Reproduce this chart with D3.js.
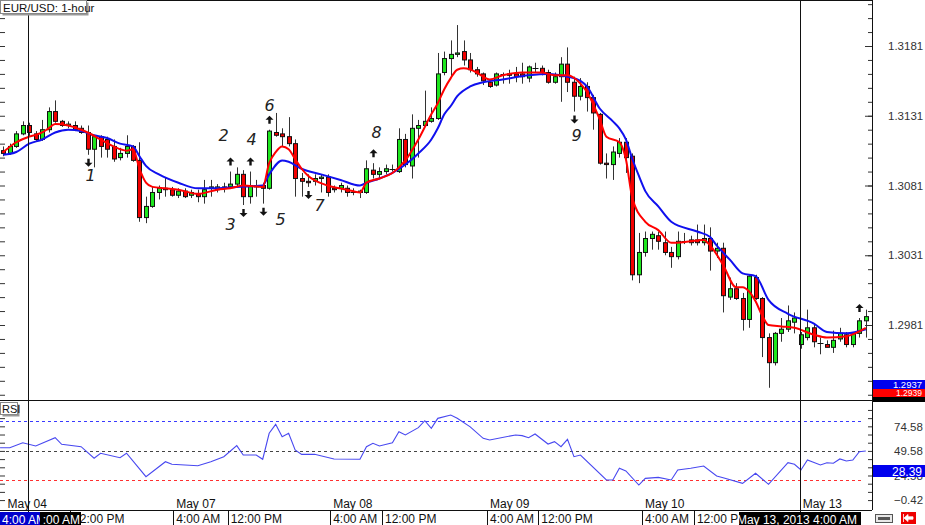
<!DOCTYPE html>
<html>
<head>
<meta charset="utf-8">
<script src="https://cdnjs.cloudflare.com/ajax/libs/d3/7.8.5/d3.min.js"></script>
<style>
  body { margin: 0; background: #fff; }
  svg { display: block; font-family: "Liberation Sans", Arial, sans-serif; }
  .axis path.domain { display: none; }
  .axis line { stroke: #333; }
  .axis text { fill: #333; font-size: 11.5px; }
</style>
</head>
<body>
<div id="chart"></div>
<script>
// EUR/USD 1-hour candles
const opens = [1.3106,1.3104,1.3109,1.3118,1.3124,1.3118,1.3114,1.3121,1.3134,1.3127,
  1.3124,1.3124,1.3122,1.3119,1.3107,1.3116,1.3114,1.3109,1.3101,1.3104,
  1.3109,1.3099,1.3058,1.3066,1.3076,1.3079,1.3078,1.3074,1.3077,1.3074,
  1.3075,1.3073,1.3079,1.3078,1.3079,1.3080,1.3082,1.3089,1.3073,1.3080,
  1.3081,1.3079,1.3119,1.3118,1.3116,1.3111,1.3086,1.3084,1.3084,1.3086,
  1.3087,1.3079,1.3079,1.3079,1.3076,1.3076,1.3076,1.3092,1.3089,1.3091,
  1.3093,1.3091,1.3114,1.3095,1.3122,1.3124,1.3127,1.3129,1.3162,1.3172,
  1.3175,1.3177,1.3171,1.3164,1.3161,1.3155,1.3153,1.3161,1.3161,1.3161,
  1.3161,1.3158,1.3165,1.3165,1.3162,1.3155,1.3159,1.3168,1.3155,1.3145,
  1.3152,1.3144,1.3132,1.3097,1.3096,1.3104,1.3112,1.3102,1.3017,1.3033,
  1.3043,1.3045,1.3040,1.3033,1.3030,1.3041,1.3042,1.3042,1.3040,1.3043,
  1.3034,1.3036,1.3001,1.3007,1.3000,1.2985,1.3015,1.3000,1.2972,1.2954,
  1.2975,1.2978,1.2983,1.2967,1.2972,1.2979,1.2968,1.2967,1.2965,1.2971,
  1.2974,1.2967,1.2975,1.2984];
const highs = [1.3109,1.3111,1.3120,1.3127,1.3126,1.3120,1.3128,1.3137,1.3142,1.3128,
  1.3127,1.3127,1.3124,1.3124,1.3117,1.3117,1.3116,1.3114,1.3108,1.3117,
  1.3110,1.3112,1.3073,1.3080,1.3081,1.3087,1.3080,1.3079,1.3079,1.3078,
  1.3078,1.3085,1.3085,1.3082,1.3083,1.3091,1.3094,1.3092,1.3091,1.3085,
  1.3083,1.3121,1.3133,1.3122,1.3130,1.3114,1.3090,1.3089,1.3089,1.3089,
  1.3089,1.3081,1.3083,1.3081,1.3079,1.3078,1.3099,1.3097,1.3094,1.3096,
  1.3096,1.3122,1.3118,1.3132,1.3128,1.3149,1.3137,1.3176,1.3177,1.3185,
  1.3196,1.3185,1.3176,1.3166,1.3162,1.3157,1.3162,1.3162,1.3164,1.3166,
  1.3169,1.3167,1.3169,1.3167,1.3164,1.3162,1.3173,1.3180,1.3159,1.3158,
  1.3155,1.3146,1.3133,1.3104,1.3109,1.3115,1.3115,1.3104,1.3047,1.3048,
  1.3048,1.3048,1.3048,1.3037,1.3048,1.3047,1.3045,1.3053,1.3053,1.3051,
  1.3040,1.3040,1.3015,1.3011,1.3004,1.3017,1.3017,1.3001,1.2975,1.2976,
  1.2986,1.2995,1.2990,1.2976,1.2992,1.2981,1.2972,1.2970,1.2977,1.2979,
  1.2976,1.2976,1.2986,1.2992];
const lows = [1.3102,1.3103,1.3108,1.3117,1.3116,1.3113,1.3113,1.3119,1.3126,1.3123,
  1.3122,1.3120,1.3118,1.3103,1.3094,1.3101,1.3101,1.3098,1.3099,1.3101,
  1.3098,1.3055,1.3054,1.3065,1.3071,1.3073,1.3073,1.3072,1.3072,1.3072,
  1.3069,1.3068,1.3073,1.3076,1.3076,1.3079,1.3080,1.3067,1.3068,1.3073,
  1.3068,1.3078,1.3116,1.3109,1.3109,1.3073,1.3073,1.3080,1.3081,1.3076,
  1.3073,1.3076,1.3076,1.3073,1.3074,1.3072,1.3075,1.3086,1.3086,1.3089,
  1.3091,1.3090,1.3094,1.3086,1.3101,1.3123,1.3126,1.3128,1.3160,1.3159,
  1.3173,1.3167,1.3162,1.3159,1.3153,1.3151,1.3152,1.3154,1.3154,1.3155,
  1.3154,1.3155,1.3162,1.3160,1.3154,1.3154,1.3141,1.3148,1.3134,1.3142,
  1.3134,1.3121,1.3096,1.3086,1.3085,1.3101,1.3090,1.3013,1.3011,1.3030,
  1.3035,1.3035,1.3031,1.3022,1.3028,1.3039,1.3038,1.3038,1.3038,1.3020,
  1.3029,1.2990,1.2999,1.2999,1.2977,1.2979,1.2999,1.2958,1.2936,1.2952,
  1.2969,1.2976,1.2975,1.2964,1.2970,1.2965,1.2960,1.2965,1.2961,1.2969,
  1.2965,1.2965,1.2972,1.2972];
const closes = [1.3104,1.3109,1.3118,1.3124,1.3119,1.3114,1.3121,1.3134,1.3127,1.3124,
  1.3125,1.3121,1.3119,1.3107,1.3116,1.3109,1.3107,1.3100,1.3104,1.3109,
  1.3099,1.3058,1.3066,1.3076,1.3079,1.3078,1.3074,1.3077,1.3073,1.3076,
  1.3073,1.3078,1.3080,1.3080,1.3080,1.3082,1.3089,1.3073,1.3081,1.3081,
  1.3079,1.3120,1.3117,1.3116,1.3111,1.3086,1.3084,1.3083,1.3086,1.3087,
  1.3076,1.3078,1.3081,1.3076,1.3076,1.3077,1.3093,1.3089,1.3091,1.3093,
  1.3093,1.3114,1.3096,1.3122,1.3124,1.3127,1.3129,1.3161,1.3172,1.3175,
  1.3176,1.3171,1.3164,1.3161,1.3156,1.3152,1.3161,1.3161,1.3160,1.3159,
  1.3159,1.3166,1.3165,1.3162,1.3155,1.3159,1.3168,1.3155,1.3145,1.3152,
  1.3144,1.3133,1.3097,1.3096,1.3105,1.3112,1.3101,1.3017,1.3033,1.3043,
  1.3046,1.3041,1.3033,1.3030,1.3041,1.3041,1.3040,1.3040,1.3043,1.3034,
  1.3036,1.3002,1.3007,1.3000,1.2985,1.3016,1.3000,1.2972,1.2954,1.2975,
  1.2978,1.2984,1.2986,1.2974,1.2979,1.2969,1.2968,1.2965,1.2970,1.2975,
  1.2967,1.2975,1.2984,1.2987];

// moving averages as [bar, price]
const maFast = [[0,1.3105],[2,1.3112],[4,1.3116],[6,1.3119],[7,1.3122],[8,1.3125],[10,1.3124],
  [12,1.3121],[13,1.3119],[15,1.3114],[17,1.3109],[19,1.3106],[20,1.3107],[21,1.3093],[22,1.3083],
  [23,1.3080],[25,1.3079],[27,1.3078],[30,1.3075],[33,1.3078],[35,1.3079],[37,1.3081],[40,1.3080],
  [41,1.3097],[42,1.3105],[43,1.3109],[44,1.3107],[45,1.3100],[46,1.3093],[47,1.3088],[50,1.3081],
  [53,1.3078],[55,1.3076],[56,1.3083],[58,1.3086],[60,1.3090],[62,1.3099],[64,1.3114],[66,1.3132],
  [67,1.3140],[68,1.3150],[69,1.3158],[70,1.3164],[71,1.3165],[73,1.3162],[74,1.3159],[75,1.3157],
  [77,1.3160],[80,1.3162],[83,1.3162],[85,1.3160],[87,1.3160],[89,1.3154],[90,1.3148],[92,1.3128],
  [93,1.3116],[95,1.3112],[96,1.3100],[97,1.3072],[99,1.3055],[101,1.3049],[103,1.3040],[104,1.3040],
  [108,1.3042],[109,1.3038],[111,1.3024],[113,1.3008],[114,1.3008],[115,1.3005],[116,1.2998],
  [117,1.2988],[118,1.2981],[120,1.2980],[122,1.2979],[125,1.2974],[127,1.2972],[130,1.2973],[133,1.2979]];
const maSlow = [[0,1.3103],[2,1.3105],[4,1.3111],[6,1.3114],[8,1.3119],[10,1.3121],[12,1.3120],
  [14,1.3117],[16,1.3115],[18,1.3111],[20,1.3109],[21,1.3102],[22,1.3095],[24,1.3089],[27,1.3083],
  [30,1.3079],[33,1.3079],[36,1.3080],[40,1.3081],[41,1.3089],[43,1.3099],[44,1.3098],[46,1.3093],
  [49,1.3089],[52,1.3085],[55,1.3081],[56,1.3083],[58,1.3086],[60,1.3090],[62,1.3096],[64,1.3104],
  [66,1.3114],[67,1.3122],[68,1.3132],[69,1.3138],[70,1.3145],[72,1.3152],[74,1.3155],[77,1.3157],
  [81,1.3160],[84,1.3161],[87,1.3159],[89,1.3156],[90,1.3152],[92,1.3136],[94,1.3127],[95,1.3122],
  [96,1.3114],[97,1.3100],[98,1.3088],[99,1.3077],[101,1.3066],[103,1.3055],[107,1.3048],[109,1.3044],
  [110,1.3038],[112,1.3028],[114,1.3018],[116,1.3016],[118,1.2999],[121,1.2989],[125,1.2982],
  [127,1.2976],[130,1.2975],[133,1.2978]];

// RSI as [bar, value]
const rsiValues = [[-0.5,52.8],[1,52.8],[3,57.9],[5,54.6],[8,63.0],[9,56.3],[12,53.9],[14,42.1],
  [15,47.2],[18,42.7],[19,47.2],[22,23.4],[25,38.6],[26,36.0],[30,34.5],[32,38.6],[34,43.7],
  [36,54.9],[37,45.4],[39,45.4],[40,41.1],[41,67.5],[42,76.6],[43,64.0],[44,67.5],[45,50.5],
  [46,46.1],[48,46.1],[51,41.4],[55,41.1],[56,53.9],[57,57.3],[58,54.6],[60,57.9],[61,69.1],
  [62,65.8],[64,73.2],[65,80.3],[66,72.6],[67,82.7],[69,86.1],[70,82.7],[72,74.0],[74,62.4],
  [75,60.7],[79,65.8],[80,65.1],[81,63.0],[82,66.8],[84,56.6],[85,59.0],[86,53.9],[87,61.4],
  [88,43.7],[89,45.4],[93,20.0],[94,20.0],[95,31.9],[96,29.2],[98,14.9],[99,21.7],[101,22.7],
  [103,20.0],[104,30.2],[106,31.9],[108,34.2],[110,24.1],[111,22.3],[114,16.6],[116,26.8],
  [118,15.6],[121,37.6],[122,36.0],[123,30.2],[124,40.3],[126,35.3],[127,37.6],[128,37.0],
  [129,41.4],[130,39.3],[131,40.3],[132,48.8],[133,49.5]];

const priceLabels = [1.3181, 1.3131, 1.3081, 1.3031, 1.2981];
const rsiLabels = [74.58, 49.58, 24.58, -0.42];
const rsiLevels = [80, 50, 20];

// bar positions of the time scale labels
const dayTicks = [[0.2, "May 04"], [26.2, "May 07"], [50.4, "May 08"], [74.6, "May 09"], [98.5, "May 10"], [122.8, "May 13"]];
const hourTicks = [[10.3, "12:00 PM"], [26.2, "4:00 AM"], [34.6, "12:00 PM"], [50.4, "4:00 AM"], [58.4, "12:00 PM"],
  [74.6, "4:00 AM"], [82.5, "12:00 PM"], [98.5, "4:00 AM"], [106.5, "12:00 PM"]];
const cursorBars = [4, 123];

// hand drawn signals
const signals = [[13, "down", "1"], [35, "up", "2"], [37, "down", "3"], [38, "up", "4"], [40, "down", "5"],
  [41, "up", "6"], [47, "down", "7"], [57, "up", "8"], [88, "down", "9"], [132, "up", ""]];

// dimensions
const WIDTH = 925;
const HEIGHT = 525;
const AXIS_X = 872;
const PRICE_BOTTOM = 400;
const RSI_TOP = 401;
const TIME_TOP = 510;

// scales
const x = d3.scaleLinear().domain([0, 133]).range([3.3, 865.8]);
const y = d3.scaleLinear().domain([1.2981, 1.3181]).range([325, 46]);
const yRsi = d3.scaleLinear().domain([20, 80]).range([480, 421]);

const bars = opens.map((o, i) => ({ i, o, h: highs[i], l: lows[i], c: closes[i] }));

const svg = d3.select("#chart").append("svg")
  .attr("width", WIDTH)
  .attr("height", HEIGHT);

const defs = svg.append("defs");
defs.append("clipPath").attr("id", "clipPrice")
  .append("rect").attr("x", 0).attr("y", 1).attr("width", AXIS_X).attr("height", PRICE_BOTTOM - 1);
defs.append("clipPath").attr("id", "clipRsi")
  .append("rect").attr("x", 0).attr("y", RSI_TOP + 1).attr("width", AXIS_X).attr("height", TIME_TOP - RSI_TOP - 1);

// price axis ticks (left edge + right axis)
const priceMinor = d3.range(-5, 29).map(k => 1.2931 + k * 0.001);
const rsiMinor = d3.range(0, 13).map(k => -0.42 + k * 25 / 3);

svg.append("g").attr("class", "axis").attr("transform", `translate(0,0)`)
  .call(d3.axisRight(y).tickValues(priceMinor.filter(v => y(v) > 2 && y(v) < PRICE_BOTTOM)).tickSize(5).tickFormat(""));
svg.append("g").attr("class", "axis").attr("transform", `translate(${AXIS_X},0)`)
  .call(d3.axisLeft(y).tickValues(priceMinor.filter(v => y(v) > 2 && y(v) < PRICE_BOTTOM)).tickSize(4).tickFormat(""));
svg.append("g").attr("class", "axis").attr("transform", `translate(${AXIS_X},0)`)
  .call(d3.axisLeft(y).tickValues(priceLabels).tickSize(7).tickFormat(""));
svg.append("g").attr("class", "axis").attr("transform", `translate(${AXIS_X},0)`)
  .call(d3.axisRight(y).tickValues(priceLabels).tickSize(0).tickPadding(16).tickFormat(d3.format(".4f")));

svg.append("g").attr("class", "axis")
  .call(d3.axisRight(yRsi).tickValues(rsiMinor.filter(v => yRsi(v) > RSI_TOP + 2)).tickSize(5).tickFormat(""));
svg.append("g").attr("class", "axis").attr("transform", `translate(${AXIS_X},0)`)
  .call(d3.axisLeft(yRsi).tickValues(rsiMinor.filter(v => yRsi(v) > RSI_TOP + 2)).tickSize(4).tickFormat(""));
svg.append("g").attr("class", "axis").attr("transform", `translate(${AXIS_X},0)`)
  .call(d3.axisRight(yRsi).tickValues(rsiLabels).tickSize(0).tickPadding(22).tickFormat(d3.format(".2f")));

// frame lines
const frame = svg.append("g").attr("stroke", "#111").attr("stroke-width", 1);
frame.append("line").attr("x1", 0).attr("x2", AXIS_X).attr("y1", 0.5).attr("y2", 0.5);
frame.append("line").attr("x1", 0).attr("x2", AXIS_X).attr("y1", PRICE_BOTTOM + 0.5).attr("y2", PRICE_BOTTOM + 0.5);
frame.append("line").attr("x1", 0).attr("x2", AXIS_X).attr("y1", TIME_TOP + 0.5).attr("y2", TIME_TOP + 0.5);
frame.append("line").attr("x1", AXIS_X + 0.5).attr("x2", AXIS_X + 0.5).attr("y1", 0).attr("y2", TIME_TOP);

// price panel
const $price = svg.append("g").attr("clip-path", "url(#clipPrice)");

const line = d3.line().x(d => x(d[0])).y(d => y(d[1])).curve(d3.curveMonotoneX);

const $candles = $price.selectAll("g.candle").data(bars).join("g").attr("class", "candle");
$candles.append("line")
  .attr("x1", d => Math.round(x(d.i)) + 0.5)
  .attr("x2", d => Math.round(x(d.i)) + 0.5)
  .attr("y1", d => y(d.h))
  .attr("y2", d => y(d.l))
  .attr("stroke", "#333");
$candles.filter(d => d.o !== d.c).append("rect")
  .attr("x", d => Math.round(x(d.i)) - 1.5)
  .attr("y", d => y(Math.max(d.o, d.c)))
  .attr("width", 4)
  .attr("height", d => Math.max(1, Math.abs(y(d.o) - y(d.c))))
  .attr("fill", d => d.c > d.o ? "#1ee61e" : "#f20000")
  .attr("stroke", "#111");
$candles.filter(d => d.o === d.c).append("line")
  .attr("x1", d => Math.round(x(d.i)) - 2.5)
  .attr("x2", d => Math.round(x(d.i)) + 3.5)
  .attr("y1", d => Math.round(y(d.o)) + 0.5)
  .attr("y2", d => Math.round(y(d.o)) + 0.5)
  .attr("stroke", "#111");

$price.append("path").datum(maSlow).attr("d", line)
  .attr("fill", "none").attr("stroke", "#1010ee").attr("stroke-width", 2);
$price.append("path").datum(maFast).attr("d", line)
  .attr("fill", "none").attr("stroke", "#f00").attr("stroke-width", 2);

// signal arrows + numbers
const noteOffset = { "1": [2, 13], "2": [-7, -26], "3": [-13, 11], "4": [1, -22], "5": [17, 8],
  "6": [0, -14], "7": [11, 11], "8": [3, -21], "9": [2, 16] };
const $signals = $price.selectAll("g.signal").data(signals).join("g")
  .attr("class", "signal")
  .attr("transform", d => {
    const b = bars[d[0]];
    const cy = d[1] === "up" ? y(b.h) - 10 : y(b.l) + 8;
    return `translate(${Math.round(x(d[0])) + 0.5},${cy})`;
  });
$signals.append("path")
  .attr("d", d => d[1] === "up"
    ? "M0,-4 L4,0 L1.2,0 L1.2,4 L-1.2,4 L-1.2,0 L-4,0 Z"
    : "M0,4 L4,0 L1.2,0 L1.2,-4 L-1.2,-4 L-1.2,0 L-4,0 Z")
  .attr("fill", "#111");
$signals.filter(d => d[2] !== "").append("text")
  .attr("x", d => noteOffset[d[2]][0])
  .attr("y", d => noteOffset[d[2]][1])
  .attr("text-anchor", "middle")
  .attr("dominant-baseline", "central")
  .attr("font-family", "'DejaVu Sans', sans-serif")
  .attr("font-size", 16)
  .attr("font-weight", 300)
  .attr("font-style", "italic")
  .attr("fill", "#222")
  .text(d => d[2]);

// rsi panel
const $rsi = svg.append("g").attr("clip-path", "url(#clipRsi)");
const levelColor = { 80: "#3a3aff", 50: "#444", 20: "#ff3030" };
$rsi.selectAll("line.level").data(rsiLevels).join("line")
  .attr("class", "level")
  .attr("x1", 0).attr("x2", 864)
  .attr("y1", d => Math.round(yRsi(d)) + 0.5)
  .attr("y2", d => Math.round(yRsi(d)) + 0.5)
  .attr("stroke", d => levelColor[d])
  .attr("stroke-dasharray", "3,3");
$rsi.append("path").datum(rsiValues)
  .attr("d", d3.line().x(d => x(d[0])).y(d => yRsi(d[1])))
  .attr("fill", "none").attr("stroke", "#4848f0").attr("stroke-width", 1.1);

// cursor / separator lines
svg.selectAll("line.cursor").data(cursorBars).join("line")
  .attr("class", "cursor")
  .attr("x1", d => Math.round(x(d)) - 0.5)
  .attr("x2", d => Math.round(x(d)) - 0.5)
  .attr("y1", 0).attr("y2", TIME_TOP + 2)
  .attr("stroke", "#111");

// time scale
const $time = svg.append("g").attr("font-size", 12).attr("fill", "#111");
$time.selectAll("text.day").data(dayTicks).join("text")
  .attr("class", "day")
  .attr("x", d => x(d[0]) + 3)
  .attr("y", 508)
  .text(d => d[1]);
$time.selectAll("line.sep").data(hourTicks).join("line")
  .attr("class", "sep")
  .attr("x1", d => Math.round(x(d[0])) + 0.5)
  .attr("x2", d => Math.round(x(d[0])) + 0.5)
  .attr("y1", TIME_TOP).attr("y2", HEIGHT)
  .attr("stroke", "#111");
$time.selectAll("text.hour").data(hourTicks).join("text")
  .attr("class", "hour")
  .attr("x", d => x(d[0]) + 3)
  .attr("y", 523)
  .text(d => d[1]);

// boxes on the edges
function tag(g, bx, by, bw, bh, fill, txt, tx, color, anchor, size) {
  g.append("rect").attr("x", bx).attr("y", by).attr("width", bw).attr("height", bh).attr("fill", fill);
  g.append("text").attr("x", tx).attr("y", by + bh - 1.5).attr("fill", color)
    .attr("font-size", size || 12).attr("text-anchor", anchor || "end").text(txt);
}
const $tags = svg.append("g");
tag($tags, 0, 512, 40, 13, "#0000cc", "4:00 AM", 2, "#fff", "start");
tag($tags, 40, 512, 41, 13, "#000", ":00 AM", 80, "#fff", "end");
tag($tags, 739, 512, 122, 13, "#000", "May 13, 2013 4:00 AM", 857, "#fff", "end");
tag($tags, 873, 397, 52, 5, "#000", "", 922, "#fff");
tag($tags, 873, 389, 52, 8, "#f00", "1.2939", 922, "#fff", "end", 8.5);
tag($tags, 873, 380, 52, 9, "#0000ee", "1.2937", 922, "#fff", "end", 9.5);
tag($tags, 873, 465, 52, 12, "#0000ee", "28.39", 922, "#fff");

// title boxes
const $title = svg.append("g");
$title.append("rect").attr("x", 2.5).attr("y", 2.5).attr("width", 86).attr("height", 13).attr("fill", "#999");
$title.append("rect").attr("x", 0.5).attr("y", 0.5).attr("width", 86).attr("height", 13)
  .attr("fill", "#fff").attr("stroke", "#888");
$title.append("text").attr("x", 3).attr("y", 11.5).attr("font-size", 11.5).attr("fill", "#111").text("EUR/USD: 1-hour");
$title.append("rect").attr("x", 2.5).attr("y", 404.5).attr("width", 17).attr("height", 12).attr("fill", "#999");
$title.append("rect").attr("x", 0.5).attr("y", 402.5).attr("width", 17).attr("height", 12)
  .attr("fill", "#fff").attr("stroke", "#888");
$title.append("text").attr("x", 2).attr("y", 412.5).attr("font-size", 11).attr("fill", "#111").text("RSI");

// small toolbar icons, bottom right
const $icons = svg.append("g");
$icons.append("rect").attr("x", 875.5).attr("y", 514.5).attr("width", 17).attr("height", 8)
  .attr("fill", "#e8e8e8").attr("stroke", "#555");
$icons.append("rect").attr("x", 878).attr("y", 517).attr("width", 12).attr("height", 3).attr("fill", "#555");
$icons.append("rect").attr("x", 901).attr("y", 512).attr("width", 15).attr("height", 12).attr("fill", "#e00");
$icons.append("path").attr("d", "M904,518 L908,514.5 L908,516.8 L913,516.8 L913,519.2 L908,519.2 L908,521.5 Z M903.5,514 L903.5,522")
  .attr("fill", "#fff").attr("stroke", "#fff").attr("stroke-width", 0.8);
</script>
</body>
</html>
